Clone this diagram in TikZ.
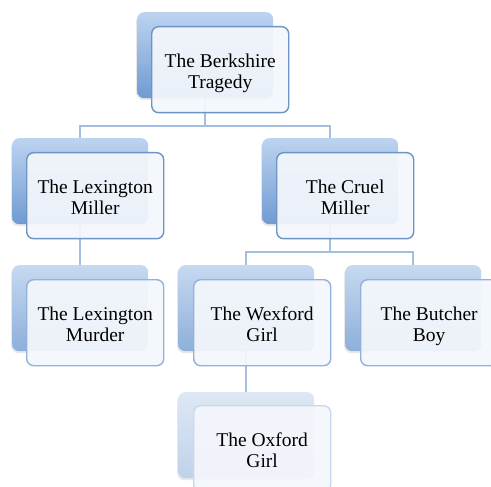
\documentclass[tikz,border=0pt]{standalone}
\usepackage{fontspec}
\setmainfont{Liberation Serif}
\usetikzlibrary{shadows,calc}
\definecolor{bkTopA}{HTML}{BDD3F0}
\definecolor{bkBotA}{HTML}{6F9BD2}
\definecolor{bkTopB}{HTML}{C6D9F0}
\definecolor{bkBotB}{HTML}{8DAFDA}
\definecolor{bkTopC}{HTML}{DEE8F4}
\definecolor{bkBotC}{HTML}{BFD2EA}
\definecolor{frA}{HTML}{6E94C6}
\definecolor{frB}{HTML}{94B2D9}
\definecolor{frC}{HTML}{C9D7EA}
\definecolor{frFill}{HTML}{F4F7FC}
\definecolor{connC}{HTML}{A4BEE0}
\newcommand{\twolines}[2]{\rule{0pt}{20.5pt}#1\\#2\rule[-4.5pt]{0pt}{4.5pt}}
\tikzset{
  backbox/.style={rectangle, rounded corners=7pt, draw=none, anchor=north west,
    minimum width=136pt, minimum height=86pt, inner sep=0pt,
    drop shadow={shadow xshift=-1pt, shadow yshift=-2pt, opacity=0.18}},
  backA/.style={backbox, top color=bkTopA, bottom color=bkBotA},
  backB/.style={backbox, top color=bkTopB, bottom color=bkBotB},
  backC/.style={backbox, top color=bkTopC, bottom color=bkBotC},
  frontbox/.style={rectangle, rounded corners=7pt, anchor=north west,
    minimum width=137pt, minimum height=86pt, inner sep=0pt, line width=1.4pt,
    fill=frFill, fill opacity=0.93, text opacity=1, align=center,
    font=\fontsize{19.5}{21}\selectfont},
  frontA/.style={frontbox, draw=frA},
  frontB/.style={frontbox, draw=frB},
  frontC/.style={frontbox, draw=frC},
  conn/.style={draw=connC, line width=1.6pt}
}
\begin{document}
\begin{tikzpicture}[x=1pt,y=-1pt]
\useasboundingbox (0,0) rectangle (491,487);
\fill[white] (0,0) rectangle (491,487);
% back boxes
\node[backA] (b0) at (137,12) {};
\node[backA] (b1) at (12,138) {};
\node[backA] (b2) at (262,138) {};
\node[backB] (b3) at (12,265) {};
\node[backB] (b4) at (178,265) {};
\node[backB] (b5) at (345,265) {};
\node[backC] (b6) at (178,392) {};
% bus coordinates
\coordinate (bus1) at (0,126);
\coordinate (bus2) at (0,252);
% connectors
\draw[conn] (b0.south) -- (b0.south |- bus1) -| (b1.north);
\draw[conn] (b0.south |- bus1) -| (b2.north);
\draw[conn] (b1.south) -- (b3.north);
\draw[conn] (b2.south) -- (b2.south |- bus2) -| (b4.north);
\draw[conn] (b2.south |- bus2) -| (b5.north);
\draw[conn] (b4.south) -- (b6.north);
% front boxes
\node[frontA] (f0) at (151,26) {\twolines{The Berkshire}{Tragedy}};
\node[frontA] (f1) at (26,152) {\twolines{The Lexington}{Miller}};
\node[frontA] (f2) at (276,152) {\twolines{The Cruel}{Miller}};
\node[frontB] (f3) at (26,279) {\twolines{The Lexington}{Murder}};
\node[frontB] (f4) at (193,279) {\twolines{The Wexford}{Girl}};
\node[frontB] (f5) at (360,279) {\twolines{The Butcher}{Boy}};
\node[frontC] (f6) at (193,405) {\twolines{The Oxford}{Girl}};
\end{tikzpicture}
\end{document}
